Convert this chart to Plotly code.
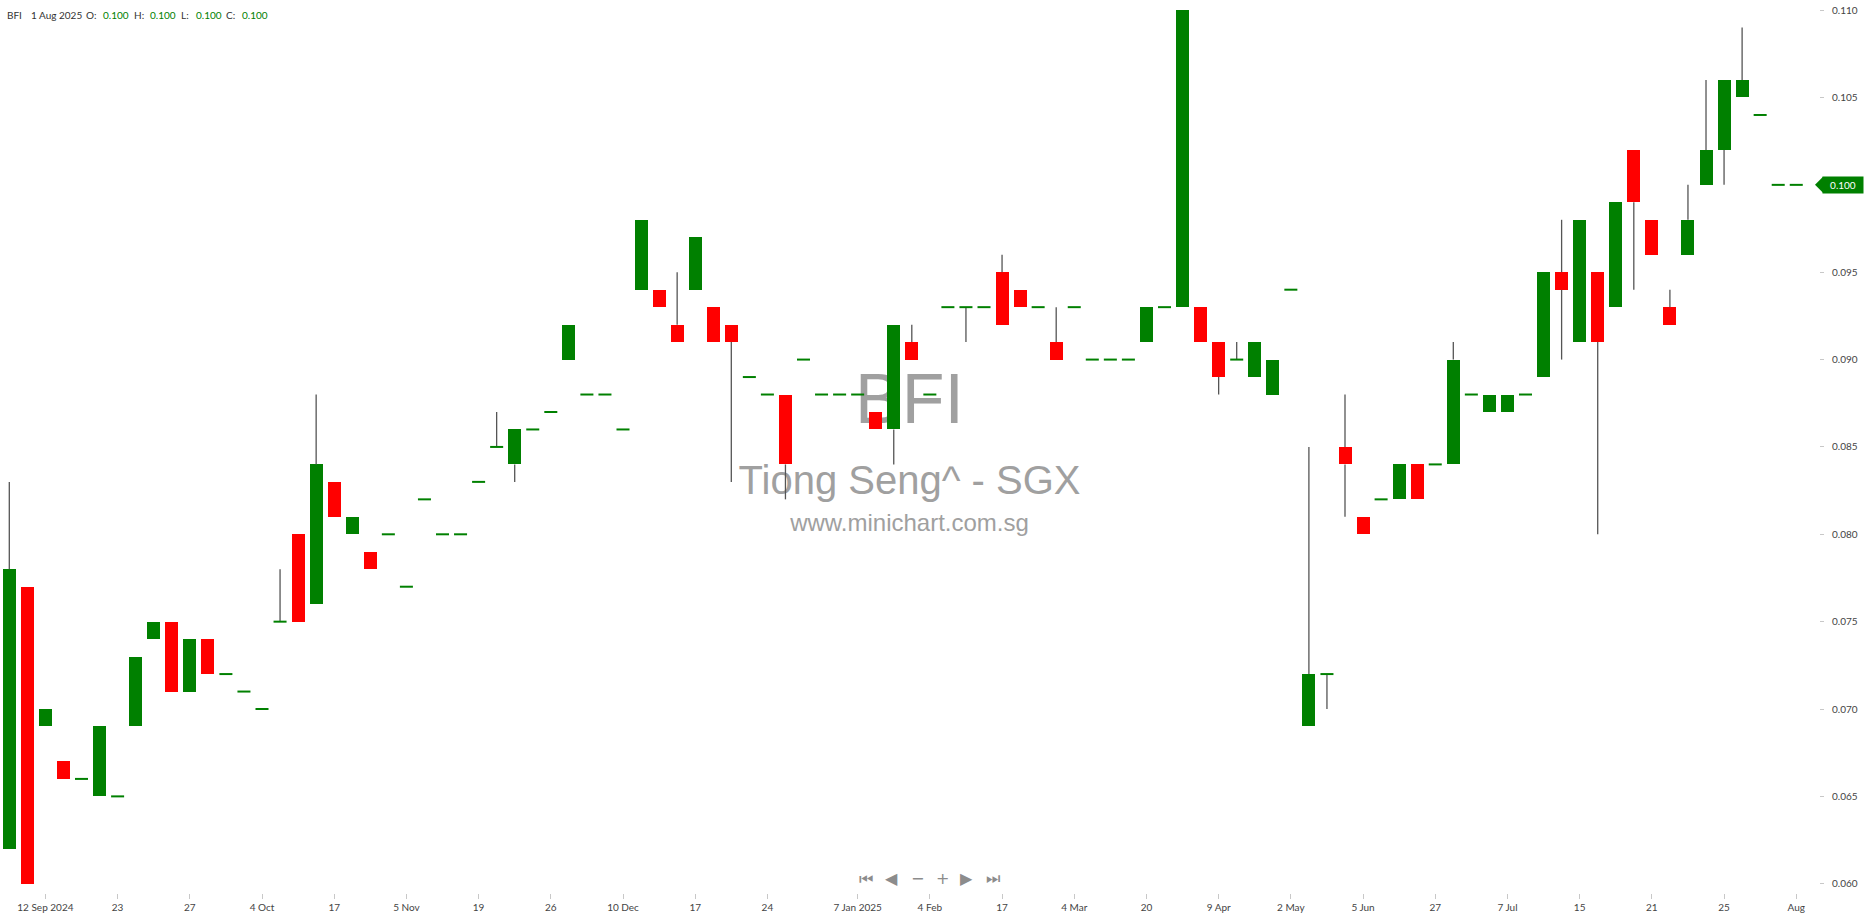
import plotly.graph_objects as go

ticker = "BFI"
company = "Tiong Seng^ - SGX"
website = "www.minichart.com.sg"
last_date = "1 Aug 2025"

opens = [0.062, 0.077, 0.069, 0.067, 0.066, 0.065, 0.065, 0.069, 0.074, 0.075,
         0.071, 0.074, 0.072, 0.071, 0.070, 0.075, 0.080, 0.076, 0.083, 0.080,
         0.079, 0.080, 0.077, 0.082, 0.080, 0.080, 0.083, 0.085, 0.084, 0.086,
         0.087, 0.090, 0.088, 0.088, 0.086, 0.094, 0.094, 0.092, 0.094, 0.093,
         0.092, 0.089, 0.088, 0.088, 0.090, 0.088, 0.088, 0.088, 0.087, 0.086,
         0.091, 0.088, 0.093, 0.093, 0.093, 0.095, 0.094, 0.093, 0.091, 0.093,
         0.090, 0.090, 0.090, 0.091, 0.093, 0.093, 0.093, 0.091, 0.090, 0.089,
         0.088, 0.094, 0.069, 0.072, 0.085, 0.081, 0.082, 0.082, 0.084, 0.084,
         0.084, 0.088, 0.087, 0.087, 0.088, 0.089, 0.095, 0.091, 0.095, 0.093,
         0.102, 0.098, 0.093, 0.096, 0.100, 0.102, 0.105, 0.104, 0.100, 0.100]
highs = [0.083, 0.077, 0.070, 0.067, 0.066, 0.069, 0.065, 0.073, 0.075, 0.075,
         0.074, 0.074, 0.072, 0.071, 0.070, 0.078, 0.080, 0.088, 0.083, 0.081,
         0.079, 0.080, 0.077, 0.082, 0.080, 0.080, 0.083, 0.087, 0.086, 0.086,
         0.087, 0.092, 0.088, 0.088, 0.086, 0.098, 0.094, 0.095, 0.097, 0.093,
         0.092, 0.089, 0.088, 0.088, 0.090, 0.088, 0.088, 0.088, 0.087, 0.092,
         0.092, 0.088, 0.093, 0.093, 0.093, 0.096, 0.094, 0.093, 0.093, 0.093,
         0.090, 0.090, 0.090, 0.093, 0.093, 0.110, 0.093, 0.091, 0.091, 0.091,
         0.090, 0.094, 0.085, 0.072, 0.088, 0.081, 0.082, 0.084, 0.084, 0.084,
         0.091, 0.088, 0.088, 0.088, 0.088, 0.095, 0.098, 0.098, 0.095, 0.099,
         0.102, 0.098, 0.094, 0.100, 0.106, 0.106, 0.109, 0.104, 0.100, 0.100]
lows = [0.062, 0.060, 0.069, 0.066, 0.066, 0.065, 0.065, 0.069, 0.074, 0.071,
        0.071, 0.072, 0.072, 0.071, 0.070, 0.075, 0.075, 0.076, 0.081, 0.080,
        0.078, 0.080, 0.077, 0.082, 0.080, 0.080, 0.083, 0.085, 0.083, 0.086,
        0.087, 0.090, 0.088, 0.088, 0.086, 0.094, 0.093, 0.091, 0.094, 0.091,
        0.083, 0.089, 0.088, 0.082, 0.090, 0.088, 0.088, 0.088, 0.086, 0.084,
        0.090, 0.088, 0.093, 0.091, 0.093, 0.092, 0.093, 0.093, 0.090, 0.093,
        0.090, 0.090, 0.090, 0.091, 0.093, 0.093, 0.091, 0.088, 0.090, 0.089,
        0.088, 0.094, 0.069, 0.070, 0.081, 0.080, 0.082, 0.082, 0.082, 0.084,
        0.084, 0.088, 0.087, 0.087, 0.088, 0.089, 0.090, 0.091, 0.080, 0.093,
        0.094, 0.096, 0.092, 0.096, 0.100, 0.100, 0.105, 0.104, 0.100, 0.100]
closes = [0.078, 0.060, 0.070, 0.066, 0.066, 0.069, 0.065, 0.073, 0.075, 0.071,
          0.074, 0.072, 0.072, 0.071, 0.070, 0.075, 0.075, 0.084, 0.081, 0.081,
          0.078, 0.080, 0.077, 0.082, 0.080, 0.080, 0.083, 0.085, 0.086, 0.086,
          0.087, 0.092, 0.088, 0.088, 0.086, 0.098, 0.093, 0.091, 0.097, 0.091,
          0.091, 0.089, 0.088, 0.084, 0.090, 0.088, 0.088, 0.088, 0.086, 0.092,
          0.090, 0.088, 0.093, 0.093, 0.093, 0.092, 0.093, 0.093, 0.090, 0.093,
          0.090, 0.090, 0.090, 0.093, 0.093, 0.110, 0.091, 0.089, 0.090, 0.091,
          0.090, 0.094, 0.072, 0.072, 0.084, 0.080, 0.082, 0.084, 0.082, 0.084,
          0.090, 0.088, 0.088, 0.088, 0.088, 0.095, 0.094, 0.098, 0.091, 0.099,
          0.099, 0.096, 0.092, 0.098, 0.102, 0.106, 0.106, 0.104, 0.100, 0.100]

tick_index = [2, 6, 10, 14, 18, 22, 26, 30, 34, 38, 42, 47, 51, 55, 59, 63,
              67, 71, 75, 79, 83, 87, 91, 95, 99]
tick_labels = ["12 Sep 2024", "23", "27", "4 Oct", "17", "5 Nov", "19", "26",
               "10 Dec", "17", "24", "7 Jan 2025", "4 Feb", "17", "4 Mar", "20",
               "9 Apr", "2 May", "5 Jun", "27", "7 Jul", "15", "21", "25", "Aug"]
y_ticks = [0.060, 0.065, 0.070, 0.075, 0.080, 0.085, 0.090, 0.095, 0.100, 0.105, 0.110]

GREEN = "#008000"
RED = "#ff0000"
WICK = "#555555"
FONT = "Lato"

W, H = 1864, 914
ML, MR, MT, MB = 0, 45, 0, 21
PW, PH = W - ML - MR, H - MT - MB
x_range = [-0.515, 100.26]
y_range = [0.05947, 0.11058]


def y_at_px(py):
    return y_range[1] - py / PH * (y_range[1] - y_range[0])


x = list(range(len(opens)))

up_x, up_base, up_h = [], [], []
dn_x, dn_base, dn_h = [], [], []
dj_x, dj_y = [], []
wx, wy = [], []
for i, o, h, l, c in zip(x, opens, highs, lows, closes):
    top, bot = max(o, c), min(o, c)
    if c > o:
        up_x.append(i); up_base.append(o); up_h.append(c - o)
    elif c < o:
        dn_x.append(i); dn_base.append(c); dn_h.append(o - c)
    else:
        dj_x.append(i); dj_y.append(c)
    if h > top:
        wx += [i, i, None]; wy += [top, h, None]
    if l < bot:
        wx += [i, i, None]; wy += [l, bot, None]

o_, h_, l_, c_ = opens[-1], highs[-1], lows[-1], closes[-1]
# the last-price tag replaces the tick label at the same level
y_ticktext = ["" if abs(v - c_) < 1e-9 else f"{v:.3f}" for v in y_ticks]

fig = go.Figure()

# watermark (behind the candles)
x_mid = (x_range[0] + x_range[1]) / 2
fig.add_trace(go.Scatter(
    x=[x_mid, x_mid, x_mid], y=[y_at_px(405), y_at_px(484), y_at_px(525)],
    mode="text", text=[ticker, company, website],
    textposition="middle center",
    textfont=dict(family="Liberation Sans, Arial", size=[70, 40, 24], color="#a0a0a0"),
    hoverinfo="skip", zorder=-1, showlegend=False))

fig.add_trace(go.Scatter(x=wx, y=wy, mode="lines",
                         line=dict(color=WICK, width=1.3),
                         hoverinfo="skip", showlegend=False))
fig.add_trace(go.Bar(x=up_x, y=up_h, base=up_base, width=0.72,
                     marker=dict(color=GREEN, line=dict(width=0)),
                     showlegend=False))
fig.add_trace(go.Bar(x=dn_x, y=dn_h, base=dn_base, width=0.72,
                     marker=dict(color=RED, line=dict(width=0)),
                     showlegend=False))
fig.add_trace(go.Scatter(x=dj_x, y=dj_y, mode="markers",
                         marker=dict(symbol="line-ew", size=9.3,
                                     line=dict(color=GREEN, width=2)),
                         showlegend=False))

# header
header = [
    (ticker, 5, "#333333"), (last_date, 28.5, "#333333"),
    ("O:", 83.5, "#333333"), (f"{o_:.3f}", 100.5, GREEN),
    ("H:", 131.5, "#333333"), (f"{h_:.3f}", 148, GREEN),
    ("L:", 179, "#333333"), (f"{l_:.3f}", 193.5, GREEN),
    ("C:", 224, "#333333"), (f"{c_:.3f}", 239.5, GREEN),
]
for txt, px, col in header:
    fig.add_annotation(text=txt, xref="paper", yref="paper",
                       x=px / PW, y=1 - 15 / PH, xanchor="left", yanchor="middle",
                       showarrow=False, font=dict(family=FONT, size=10, color=col))

# navigation icons
for sym, px in [("⏮", 866), ("◀", 891), ("−", 917), ("+", 942), ("▶", 967), ("⏭", 993)]:
    fig.add_annotation(text=sym, xref="paper", yref="paper",
                       x=px / PW, y=1 - 878 / PH, xanchor="center", yanchor="middle",
                       showarrow=False,
                       font=dict(family="DejaVu Sans", size=16, color="#8c8c8c"))

# current price tag
fig.add_annotation(text=f"{c_:.3f}", xref="paper", yref="y", x=1, y=c_,
                   xanchor="left", yanchor="middle", xshift=3, showarrow=False,
                   bgcolor=GREEN, borderpad=2, width=36, align="center",
                   font=dict(family=FONT, size=10, color="white"))
fig.add_shape(type="path", xref="paper", yref="y", xsizemode="pixel",
              ysizemode="pixel", xanchor=1, yanchor=c_,
              path="M-4,0L4,-8L4,8Z", fillcolor=GREEN, line=dict(width=0))

fig.update_layout(
    width=W, height=H,
    margin=dict(l=ML, r=MR, t=MT, b=MB, autoexpand=False),
    plot_bgcolor="white", paper_bgcolor="white",
    barmode="overlay", showlegend=False, bargap=0,
    xaxis=dict(range=x_range, tickmode="array", tickvals=tick_index,
               ticktext=tick_labels, ticks="outside", ticklen=5,
               tickcolor="#c8c8c8", showline=True, linecolor="#c8c8c8",
               linewidth=1, showgrid=False, zeroline=False,
               tickfont=dict(family=FONT, size=10, color="#444444")),
    yaxis=dict(range=y_range, side="right", tickmode="array", tickvals=y_ticks,
               ticktext=y_ticktext, ticks="outside", ticklen=4,
               tickcolor="#c8c8c8", showline=True, linecolor="#c8c8c8",
               linewidth=1, showgrid=False, zeroline=False,
               ticklabelstandoff=6,
               tickfont=dict(family=FONT, size=10, color="#444444")),
)

fig.write_html("out.html", config={"displayModeBar": False},
               post_script="document.body.style.margin='0';document.body.style.overflow='hidden';")
